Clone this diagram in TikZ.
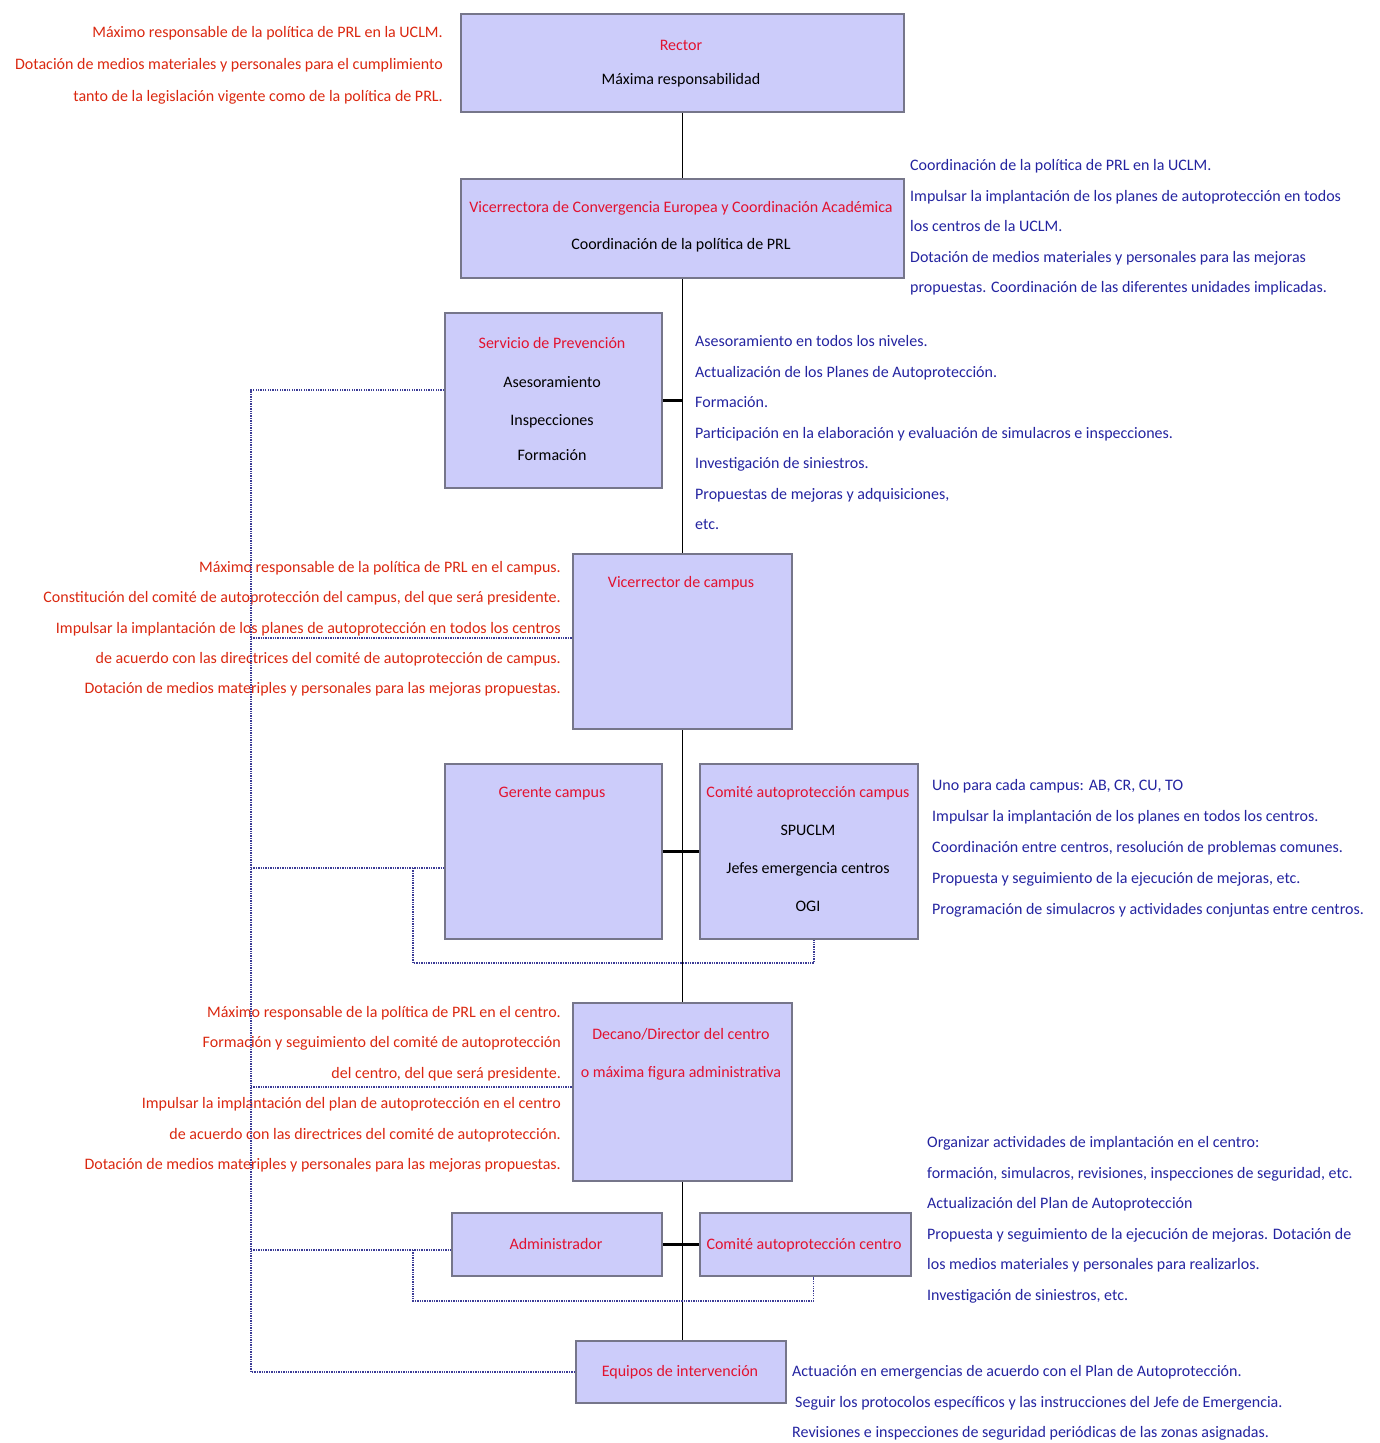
\documentclass[tikz,border=0pt]{standalone}
\usepackage{fontspec}
\setmainfont{Carlito}
\definecolor{boxfill}{RGB}{204,204,250}
\definecolor{boxline}{RGB}{118,118,138}
\definecolor{titlered}{RGB}{226,18,48}
\definecolor{notered}{RGB}{218,40,16}
\definecolor{noteblue}{RGB}{36,36,160}
\definecolor{railblue}{RGB}{60,60,150}
\pgfdeclarelayer{bg}
\pgfsetlayers{bg,main}
\begin{document}
\begin{tikzpicture}[x=1pt,y=-1pt,
  box/.style={draw=boxline, fill=boxfill, line width=1.8pt, inner sep=0pt, anchor=north west},
  ttl/.style={text=titlered, font=\fontsize{16}{19}\selectfont, inner sep=0pt, anchor=base},
  body/.style={text=black, font=\fontsize{16}{19}\selectfont, inner sep=0pt, anchor=base},
  lnote/.style={text=notered, font=\fontsize{16}{30.5}\selectfont, align=right, anchor=base east, inner sep=0pt},
  rnote/.style={text=noteblue, font=\fontsize{16}{30.5}\selectfont, align=left, anchor=base west, inner sep=0pt},
  trunk/.style={draw=black, line width=1.6pt},
  link/.style={draw=black, line width=2.8pt},
  rail/.style={draw=railblue, line width=1.3pt, dash pattern=on 1.3pt off 1.1pt},
]
\useasboundingbox (0,0) rectangle (1380,1443);

% ---------- boxes ----------
\node[box, minimum width=443, minimum height=98]  (rector)    at (460,13)   {};
\node[box, minimum width=443, minimum height=99]  (vice)      at (460,178)  {};
\node[box, minimum width=217, minimum height=175] (servicio)  at (444,312)  {};
\node[box, minimum width=219, minimum height=175] (vcampus)   at (572,553)  {};
\node[box, minimum width=217, minimum height=175] (gerente)   at (444,763)  {};
\node[box, minimum width=218, minimum height=175] (comcampus) at (699,763)  {};
\node[box, minimum width=219, minimum height=178] (decano)    at (572,1002) {};
\node[box, minimum width=210, minimum height=63]  (admin)     at (451,1212) {};
\node[box, minimum width=211, minimum height=63]  (comcentro) at (699,1212) {};
\node[box, minimum width=210, minimum height=62]  (equipos)   at (575,1340) {};

% ---------- box texts ----------
\node[ttl]  (tRector)   at (681,50.5)  {Rector};
\node[body] (bRector)   at (681,84.5)  {Máxima responsabilidad};
\node[ttl]  (tVice)     at (681,212.5) {Vicerrectora de Convergencia Europea y Coordinación Académica};
\node[body] (bVice)     at (681,249.5) {Coordinación de la política de PRL};
\node[ttl]  (tServ)     at (552,348.5) {Servicio de Prevención};
\node[body] (bServA)    at (552,387.5) {Asesoramiento};
\node[body] (bServB)    at (552,425.5) {Inspecciones};
\node[body] (bServC)    at (552,460.5) {Formación};
\node[ttl]  (tVcampus)  at (681,587.5) {Vicerrector de campus};
\node[ttl]  (tGerente)  at (552,797.5) {Gerente campus};
\node[ttl]  (tComCamp)  at (808,797.5) {Comité autoprotección campus};
\node[body] (bComCampA) at (808,835.5) {SPUCLM};
\node[body] (bComCampB) at (808,873.5) {Jefes emergencia centros};
\node[body] (bComCampC) at (808,911.5) {OGI};
\node[ttl]  (tDecanoA)  at (681,1039.5) {Decano/Director del centro};
\node[ttl]  (tDecanoB)  at (681,1077.5) {o máxima figura administrativa};
\node[ttl]  (tAdmin)    at (556,1249.5) {Administrador};
\node[ttl]  (tComCent)  at (804,1249.5) {Comité autoprotección centro};
\node[ttl]  (tEquipos)  at (680,1376.5) {Equipos de intervención};

% ---------- annotations (anchored at the baseline of their last line) ----------
\node[lnote, font=\fontsize{16}{32}\selectfont] (nRector) at (443,101.5)
  {Máximo responsable de la política de PRL en la UCLM.\\
   Dotación de medios materiales y personales para el cumplimiento\\
   tanto de la legislación vigente como de la política de PRL.};
\node[rnote] (nVice) at (910,292.5)
  {Coordinación de la política de PRL en la UCLM.\\
   Impulsar la implantación de los planes de autoprotección en todos\\
   los centros de la UCLM.\\
   Dotación de medios materiales y personales para las mejoras\\
   propuestas. Coordinación de las diferentes unidades implicadas.};
\node[rnote] (nServ) at (695,529.5)
  {Asesoramiento en todos los niveles.\\
   Actualización de los Planes de Autoprotección.\\
   Formación.\\
   Participación en la elaboración y evaluación de simulacros e inspecciones.\\
   Investigación de siniestros.\\
   Propuestas de mejoras y adquisiciones,\\
   etc.};
\node[lnote, font=\fontsize{16}{30.25}\selectfont] (nVcampus) at (561,693.5)
  {Máximo responsable de la política de PRL en el campus.\\
   Constitución del comité de autoprotección del campus, del que será presidente.\\
   Impulsar la implantación de los planes de autoprotección en todos los centros\\
   de acuerdo con las directrices del comité de autoprotección de campus.\\
   Dotación de medios materiples y personales para las mejoras propuestas.};
\node[rnote, font=\fontsize{16}{31}\selectfont] (nComCamp) at (932,914.5)
  {Uno para cada campus: AB, CR, CU, TO\\
   Impulsar la implantación de los planes en todos los centros.\\
   Coordinación entre centros, resolución de problemas comunes.\\
   Propuesta y seguimiento de la ejecución de mejoras, etc.\\
   Programación de simulacros y actividades conjuntas entre centros.};
\node[lnote, font=\fontsize{16}{30.4}\selectfont] (nDecano) at (561,1169.5)
  {Máximo responsable de la política de PRL en el centro.\\
   Formación y seguimiento del comité de autoprotección\\
   del centro, del que será presidente.\\
   Impulsar la implantación del plan de autoprotección en el centro\\
   de acuerdo con las directrices del comité de autoprotección.\\
   Dotación de medios materiples y personales para las mejoras propuestas.};
\node[rnote, font=\fontsize{16}{30.6}\selectfont] (nComCent) at (927,1300.5)
  {Organizar actividades de implantación en el centro:\\
   formación, simulacros, revisiones, inspecciones de seguridad, etc.\\
   Actualización del Plan de Autoprotección\\
   Propuesta y seguimiento de la ejecución de mejoras. Dotación de\\
   los medios materiales y personales para realizarlos.\\
   Investigación de siniestros, etc.};
\node[rnote, font=\fontsize{16}{30.5}\selectfont] (nEquipos) at (792,1437.5)
  {Actuación en emergencias de acuerdo con el Plan de Autoprotección.\\
   \hspace*{3pt}Seguir los protocolos específicos y las instrucciones del Jefe de Emergencia.\\
   Revisiones e inspecciones de seguridad periódicas de las zonas asignadas.};

% ---------- connectors ----------
\coordinate (railTop) at (251,390);
\coordinate (loopA) at (413,868);
\coordinate (loopB) at (413,1250);
\begin{pgfonlayer}{bg}
  \draw[trunk] (rector.south) -- (rector.south |- equipos.north);
\end{pgfonlayer}
\draw[link] (servicio.east) -- (servicio.east -| rector.south);
\draw[link] (gerente.east) -- (comcampus.west);
\draw[link] (admin.east) -- (comcentro.west);

% dotted staff rail
\draw[rail] (servicio.west |- railTop) -- (railTop) -- (railTop |- equipos.west) -- (equipos.west);
\draw[rail] (railTop |- 0,638) -- (vcampus.west |- 0,638);
\draw[rail] (railTop |- loopA) -- (gerente.west |- loopA);
\draw[rail] (railTop |- 0,1087) -- (decano.west |- 0,1087);
\draw[rail] (railTop |- loopB) -- (admin.west |- loopB);
\draw[rail] (loopA) |- ([xshift=5pt]comcampus.south |- 0,963) -- ([xshift=5pt]comcampus.south);
\draw[rail] (loopB) |- ([xshift=8pt]comcentro.south |- 0,1301) -- ([xshift=8pt]comcentro.south);
\end{tikzpicture}
\end{document}
